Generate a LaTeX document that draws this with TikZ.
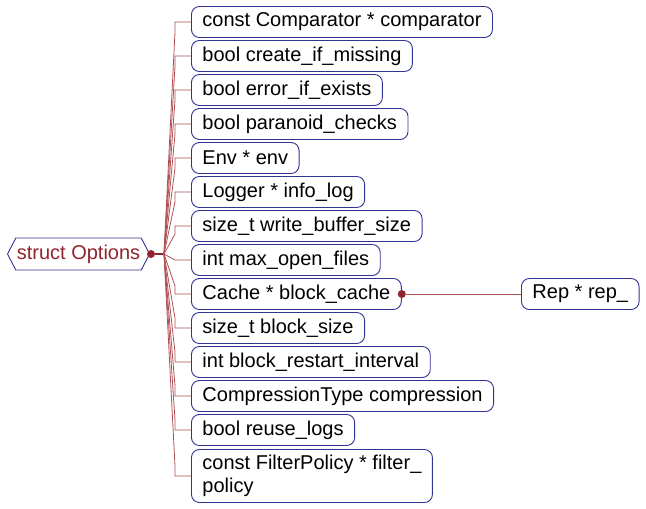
\documentclass[tikz,border=0pt]{standalone}
\usepackage{fontspec}
\setmainfont{Liberation Sans}
\usetikzlibrary{shapes.symbols}
\definecolor{boxline}{RGB}{50,50,150}
\definecolor{rootred}{RGB}{145,35,45}
\definecolor{linkred}{RGB}{175,80,85}

\begin{document}
\begin{tikzpicture}[x=1pt, y=-1pt,
    every node/.style={draw=boxline, line width=0.9pt, rounded corners=8pt, minimum height=31pt, inner xsep=11pt, inner ysep=3pt, anchor=west, font=\fontsize{20}{23}\selectfont},
    dot/.style={circle, fill=rootred, draw=none, inner sep=0pt, minimum size=8pt, anchor=center},
    link/.style={linkred, line width=0.8pt}]
    \useasboundingbox (0,0) rectangle (646,509);
    % root
    \node[signal, signal to=west and east, signal pointer angle=125, rounded corners=0pt, inner xsep=1pt, minimum height=32pt, text=rootred] (root) at (7,254) {struct Options};
    \node[dot] (rdot) at (151,254) {};
    \coordinate (j) at (164,254);
    \draw[rootred, line width=1.6pt] (rdot) -- (j);
    % members
    \node (m1) at (191,22) {const Comparator * comparator};
    \node (m2) at (191,56) {bool create\_if\_missing};
    \node (m3) at (191,90) {bool error\_if\_exists};
    \node (m4) at (191,124) {bool paranoid\_checks};
    \node (m5) at (191,158) {Env * env};
    \node (m6) at (191,192) {Logger * info\_log};
    \node (m7) at (191,226) {size\_t write\_buffer\_size};
    \node (m8) at (191,260) {int max\_open\_files};
    \node (m9) at (191,294) {Cache * block\_cache};
    \node (m10) at (191,328) {size\_t block\_size};
    \node (m11) at (191,362) {int block\_restart\_interval};
    \node (m12) at (191,396) {CompressionType compression};
    \node (m13) at (191,430) {bool reuse\_logs};
    \node[align=left, minimum height=53pt] (m14) at (191,476) {const FilterPolicy * filter\_\\policy};
    \draw[link] (j) -- (175,32) -- (175,22) -- (m1.west);
    \draw[link] (j) -- (175,66) -- (175,56) -- (m2.west);
    \draw[link] (j) -- (175,100) -- (175,90) -- (m3.west);
    \draw[link] (j) -- (175,134) -- (175,124) -- (m4.west);
    \draw[link] (j) -- (175,168) -- (175,158) -- (m5.west);
    \draw[link] (j) -- (175,202) -- (175,192) -- (m6.west);
    \draw[link] (j) -- (175,234) -- (175,226) -- (m7.west);
    \draw[link] (j) -- (175,260) -- (m8.west);
    \draw[link] (j) -- (175,286) -- (175,294) -- (m9.west);
    \draw[link] (j) -- (175,318) -- (175,328) -- (m10.west);
    \draw[link] (j) -- (175,352) -- (175,362) -- (m11.west);
    \draw[link] (j) -- (175,386) -- (175,396) -- (m12.west);
    \draw[link] (j) -- (175,420) -- (175,430) -- (m13.west);
    \draw[link] (j) -- (175,466) -- (175,476) -- (m14.west);
    % cache detail
    \node[dot] (cdot) at (m9.east) {};
    \node (rep) at (521,294) {Rep * rep\_};
    \draw[link] (cdot) -- (rep.west);
\end{tikzpicture}
\end{document}
